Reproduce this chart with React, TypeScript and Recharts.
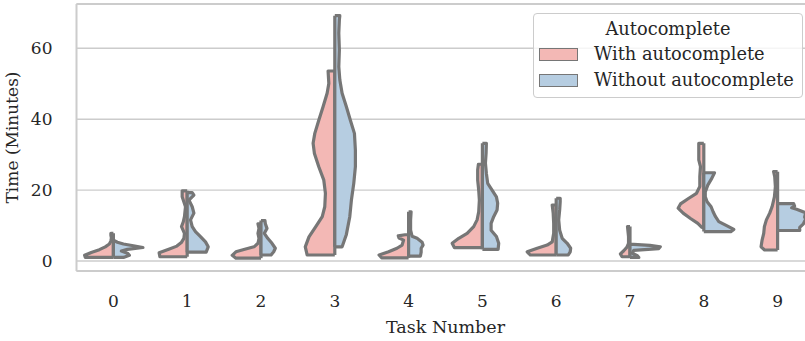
import React from "react";
import {
  ComposedChart,
  Area,
  XAxis,
  YAxis,
  CartesianGrid,
  ReferenceLine,
  Legend,
} from "recharts";

const TASKS = [0, 1, 2, 3, 4, 5, 6, 7, 8, 9];
const GROUPS = ["With autocomplete", "Without autocomplete"];
const COLORS = ["#f3b8b5", "#b6cde1"];
const Y_TICKS = [0, 20, 40, 60];

// half violin outlines per task: [minutes, half width in task units]
const WITH_AC: number[][][] = [
  [[1.0, 0.38], [1.6, 0.39], [2.4, 0.3], [3.2, 0.19], [4.0, 0.11], [4.8, 0.055], [5.6, 0.035], [6.5, 0.027], [7.3, 0.034], [7.8, 0.034]],
  [[1.2, 0.37], [2.3, 0.38], [3.3, 0.25], [4.2, 0.14], [5.2, 0.08], [6.4, 0.045], [7.8, 0.037], [9.7, 0.077], [11.0, 0.054], [12.5, 0.037], [15.3, 0.023], [18.1, 0.068], [19.8, 0.068]],
  [[0.8, 0.34], [1.6, 0.39], [2.6, 0.34], [3.3, 0.22], [4.0, 0.095], [5.0, 0.041], [6.4, 0.027], [7.8, 0.041], [9.2, 0.027], [10.5, 0.041]],
  [[1.7, 0.375], [4.0, 0.4], [6.8, 0.35], [9.6, 0.26], [12.5, 0.17], [15.3, 0.136], [19.1, 0.127], [22.8, 0.149], [26.6, 0.217], [30.3, 0.276], [33.2, 0.294], [36.0, 0.271], [39.7, 0.217], [43.5, 0.159], [47.3, 0.104], [50.1, 0.081], [53.6, 0.091]],
  [[0.9, 0.366], [1.7, 0.4], [2.6, 0.271], [3.6, 0.157], [4.5, 0.088], [5.9, 0.068], [6.5, 0.13], [7.1, 0.14], [7.4, 0.05]],
  [[3.8, 0.38], [5.0, 0.41], [6.4, 0.32], [7.8, 0.207], [9.7, 0.118], [11.6, 0.072], [13.9, 0.05], [17.2, 0.041], [20.0, 0.05], [22.8, 0.064], [25.7, 0.064], [27.3, 0.054]],
  [[1.7, 0.352], [2.6, 0.393], [3.6, 0.257], [4.5, 0.122], [5.4, 0.054], [7.8, 0.034], [10.6, 0.034], [13.5, 0.041], [15.8, 0.054]],
  [[1.2, 0.108], [2.0, 0.13], [2.9, 0.085], [3.9, 0.041], [5.0, 0.02], [6.9, 0.02], [9.7, 0.034]],
  [[9.5, 0.027], [10.6, 0.081], [12.0, 0.18], [13.5, 0.28], [14.9, 0.348], [16.1, 0.316], [17.7, 0.203], [19.1, 0.099], [21.0, 0.054], [23.8, 0.054], [26.6, 0.045], [28.5, 0.068], [31.3, 0.068], [33.2, 0.068]],
  [[3.1, 0.176], [4.0, 0.224], [5.9, 0.21], [7.8, 0.188], [9.7, 0.179], [11.6, 0.152], [13.5, 0.107], [15.3, 0.075], [18.1, 0.043], [21.0, 0.03], [23.8, 0.039], [25.2, 0.054]],
];

const WITHOUT_AC: number[][][] = [
  [[1.0, 0.136], [1.6, 0.217], [2.2, 0.19], [2.8, 0.108], [3.3, 0.19], [3.8, 0.4], [4.3, 0.271], [4.8, 0.136], [5.3, 0.054], [5.7, 0.014]],
  [[2.5, 0.257], [4.0, 0.285], [5.4, 0.248], [6.9, 0.18], [8.3, 0.112], [9.7, 0.068], [11.6, 0.045], [13.5, 0.091], [15.3, 0.068], [17.2, 0.023], [18.6, 0.091], [19.3, 0.068]],
  [[1.7, 0.136], [2.6, 0.172], [3.6, 0.194], [5.0, 0.149], [6.4, 0.091], [7.8, 0.045], [9.2, 0.081], [10.6, 0.058], [11.4, 0.054]],
  [[4.0, 0.099], [7.5, 0.157], [12.5, 0.203], [17.2, 0.225], [21.9, 0.257], [26.6, 0.279], [31.3, 0.279], [36.0, 0.266], [39.7, 0.211], [43.5, 0.157], [47.3, 0.099], [51.1, 0.068], [54.8, 0.054], [59.6, 0.062], [64.3, 0.054], [68.1, 0.062], [69.2, 0.068]],
  [[1.4, 0.16], [2.5, 0.17], [3.6, 0.17], [4.5, 0.196], [5.3, 0.183], [6.4, 0.115], [7.0, 0.047], [8.7, 0.027], [11.6, 0.027], [13.9, 0.034]],
  [[3.3, 0.213], [5.0, 0.221], [6.9, 0.19], [8.7, 0.118], [10.6, 0.118], [12.5, 0.153], [14.4, 0.199], [16.3, 0.207], [18.1, 0.19], [20.0, 0.131], [21.9, 0.072], [24.7, 0.054], [27.6, 0.041], [30.4, 0.05], [33.2, 0.054]],
  [[1.7, 0.163], [2.6, 0.19], [3.6, 0.196], [5.0, 0.149], [6.4, 0.081], [8.7, 0.047], [11.6, 0.034], [14.4, 0.047], [16.7, 0.054], [17.7, 0.054]],
  [[1.0, 0.12], [1.5, 0.1], [2.2, 0.03], [3.0, 0.05], [3.5, 0.39], [4.0, 0.41], [4.4, 0.27], [4.7, 0.05]],
  [[8.3, 0.366], [8.9, 0.407], [9.9, 0.316], [11.1, 0.203], [12.5, 0.159], [13.9, 0.126], [15.3, 0.099], [16.7, 0.045], [18.1, 0.02], [19.5, 0.02], [21.4, 0.054], [23.3, 0.108], [24.9, 0.145]],
  [[8.6, 0.3], [9.5, 0.3], [10.5, 0.35], [11.8, 0.38], [12.4, 0.366], [13.6, 0.38], [14.6, 0.257], [15.0, 0.19], [15.5, 0.23], [16.2, 0.217]],
];

const FONT = '"DejaVu Serif", serif';
const TEXT = "#262626";
const EDGE = "#767676";
const SPINE = "#cccccc";
const Y_MIN = -2.82;
const Y_MAX = 72.5;

// closed half shape: starts and ends on the split line
const halfRows = (task: number, profile: number[][], side: number) => {
  const first = profile[0][0];
  const last = profile[profile.length - 1][0];
  return [
    { y: first, x: [task, task] },
    ...profile.map(([y, w]) => ({ y, x: [task, task + side * w] })),
    { y: last, x: [task, task] },
  ];
};

const halves = TASKS.flatMap((t) => [
  { key: `w${t}`, group: 0, rows: halfRows(t, WITH_AC[t], -1) },
  { key: `o${t}`, group: 1, rows: halfRows(t, WITHOUT_AC[t], 1) },
]);

const renderLegend = () => (
  <div
    style={{
      position: "relative",
      width: 270,
      height: 85,
      boxSizing: "border-box",
      border: `1.5px solid ${SPINE}`,
      borderRadius: 4,
      background: "rgba(255,255,255,0.8)",
      fontFamily: FONT,
      fontSize: 17.8,
      color: TEXT,
    }}
  >
    <div style={{ position: "absolute", left: 0, right: 0, top: 5, textAlign: "center", lineHeight: "20px" }}>
      Autocomplete
    </div>
    {GROUPS.map((g, i) => (
      <div key={g} style={{ position: "absolute", left: 5, top: 30 + i * 26, height: 20, display: "flex", alignItems: "center" }}>
        <span
          style={{
            display: "inline-block",
            width: 39,
            height: 13,
            boxSizing: "border-box",
            background: COLORS[i],
            border: `1.5px solid ${EDGE}`,
            marginRight: 16,
          }}
        />
        <span style={{ lineHeight: "20px", whiteSpace: "nowrap" }}>{g}</span>
      </div>
    ))}
  </div>
);

const App = () => {
  return (
    <div style={{ position: "absolute", left: 0, top: 0, width: 805, height: 341, overflow: "hidden", background: "#fff" }}>
      <ComposedChart layout="vertical" width={830} height={341} margin={{ top: 4, right: 15.5, bottom: 0, left: 0 }}>
        <CartesianGrid horizontal vertical={false} stroke={SPINE} strokeWidth={1.4} />
        <XAxis
          type="number"
          domain={[-0.5, 9.5]}
          ticks={TASKS}
          interval={0}
          allowDataOverflow
          height={70}
          tickLine={false}
          tickSize={0}
          tickMargin={24}
          axisLine={{ stroke: SPINE, strokeWidth: 2 }}
          tick={{ fill: TEXT, fontSize: 17, fontFamily: FONT }}
          label={({ viewBox }: any) => (
            <text
              x={viewBox.x + viewBox.width / 2}
              y={viewBox.y + 56}
              textAnchor="middle"
              dominantBaseline="central"
              fill={TEXT}
              fontSize={17.5}
              fontFamily={FONT}
            >
              Task Number
            </text>
          )}
        />
        <YAxis
          type="number"
          dataKey="y"
          reversed
          domain={[Y_MIN, Y_MAX]}
          ticks={Y_TICKS}
          interval={0}
          allowDataOverflow
          width={76.5}
          tickLine={false}
          tickSize={0}
          tickMargin={24}
          axisLine={{ stroke: SPINE, strokeWidth: 2 }}
          tick={{ fill: TEXT, fontSize: 17, fontFamily: FONT }}
          label={({ viewBox }: any) => {
            const cx = viewBox.x + 12;
            const cy = viewBox.y + viewBox.height / 2;
            return (
              <text
                x={cx}
                y={cy}
                transform={`rotate(-90 ${cx} ${cy})`}
                textAnchor="middle"
                dominantBaseline="central"
                fill={TEXT}
                fontSize={17}
                fontFamily={FONT}
              >
                Time (Minutes)
              </text>
            );
          }}
        />
        <ReferenceLine y={Y_MAX} stroke={SPINE} strokeWidth={2} />
        {halves.map((h) => (
          <Area
            key={h.key}
            data={h.rows}
            dataKey="x"
            type="linear"
            fill={COLORS[h.group]}
            fillOpacity={1}
            stroke={EDGE}
            strokeWidth={3.2}
            strokeLinejoin="round"
            dot={false}
            activeDot={false}
            isAnimationActive={false}
          />
        ))}
        <Legend
          layout="horizontal"
          align="center"
          verticalAlign="middle"
          width={270}
          height={85}
          wrapperStyle={{ left: 533, top: 13, width: 270, height: 85 }}
          content={renderLegend}
        />
      </ComposedChart>
    </div>
  );
};

export default App;
